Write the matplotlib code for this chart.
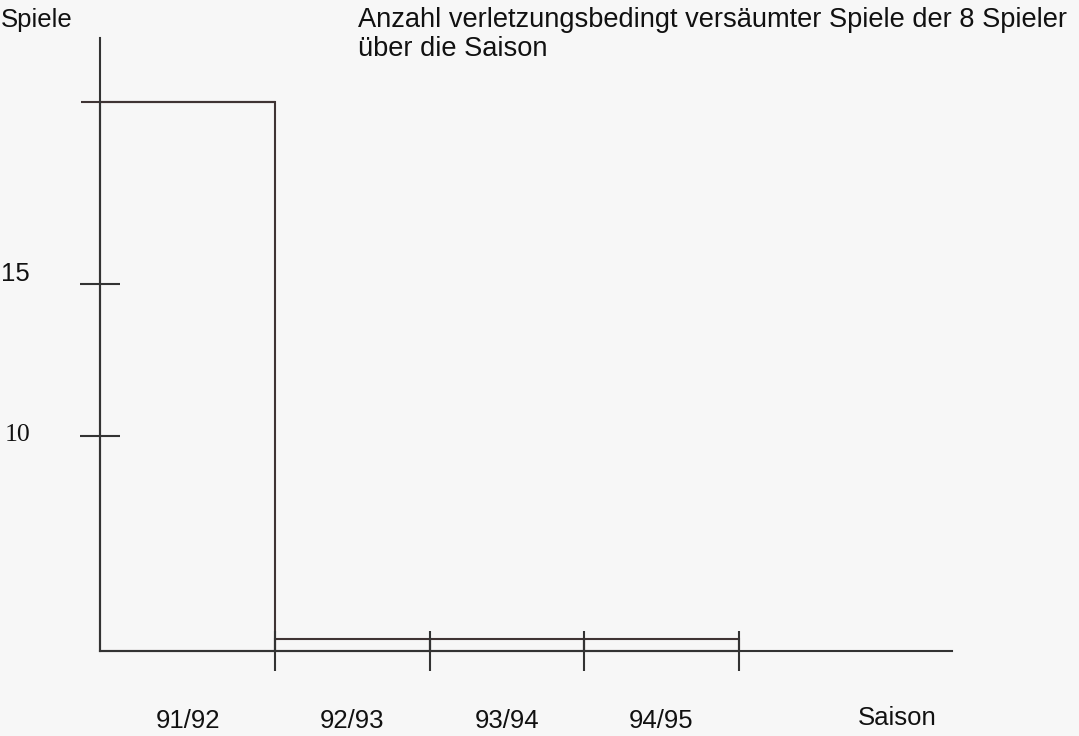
import numpy as np
import matplotlib
matplotlib.use("Agg")
import matplotlib.pyplot as plt
from matplotlib.transforms import ScaledTranslation

# data
saisons = ["91/92", "92/93", "93/94", "94/95"]
spiele = [21.0, 3.32, 3.32, 3.32]
y_ticks = [10, 15]
y_ticklabels = ["10", "15"]

# drawing layout (scan is hand made, first bar is wider)
breiten = [1.133, 1.0, 1.0, 1.0]
basis = 2.93
linie = "#333333"
balken = "#3f3434"
fs = 18.5

links = np.concatenate([[0], np.cumsum(breiten)[:-1]])
rechts = links + np.array(breiten)

fig = plt.figure(figsize=(10.79, 7.36), dpi=100, facecolor="#f7f7f7")
ax = fig.add_axes([100 / 1079, 85 / 736, 852 / 1079, 613 / 736])
ax.set_facecolor("#f7f7f7")

ax.bar(links, np.array(spiele) - basis, bottom=basis, width=breiten, align="edge",
       fill=False, edgecolor=balken, linewidth=1.5, clip_on=False)
# top line of the first bar runs a bit past the y axis in the scan
ax.hlines(spiele[0], -0.12, rechts[0], color=balken, linewidth=1.5, clip_on=False)

ax.set_xlim(0, 852 / 154.5)
ax.set_ylim(basis, 23.09)

for s in ["top", "right"]:
    ax.spines[s].set_visible(False)
for s in ["left", "bottom"]:
    ax.spines[s].set_color(linie)
    ax.spines[s].set_linewidth(1.5)

ax.set_xticks(rechts)
ax.set_xticklabels([])
ax.tick_params(axis="x", direction="inout", length=29, width=1.5, color=linie)

ax.set_yticks(y_ticks)
ax.set_yticklabels(y_ticklabels)
ax.tick_params(axis="y", direction="inout", length=29.5, width=1.5, color=linie,
               pad=35.5, labelsize=fs, labelcolor="#111111")
for lab in ax.get_yticklabels():
    if lab.get_text() == "10":
        lab.set_fontfamily("Liberation Serif")
        hoch = 4
    else:
        lab.set_fontfamily("Liberation Sans")
        hoch = 12
    lab.set_transform(lab.get_transform() + ScaledTranslation(0, hoch / 100, fig.dpi_scale_trans))

mitten = (links + rechts) / 2
for x, s in zip(mitten, saisons):
    ax.text(x, -70 / 613, s, transform=ax.get_xaxis_transform(), ha="center", va="center",
            fontsize=fs, family="Liberation Sans", color="#111111")
ax.text(797 / 852, -67 / 613, "Saison", transform=ax.transAxes, ha="center", va="center",
        fontsize=fs, family="Liberation Sans", color="#111111")

fig.text(0.001, 1 - 20 / 736, "Spiele", ha="left", va="center",
         fontsize=fs, family="Liberation Sans", color="#111111")
fig.text(358 / 1079, 1 - 7 / 736,
         "Anzahl verletzungsbedingt versäumter Spiele der 8 Spieler\nüber die Saison",
         ha="left", va="top", fontsize=19.6, family="Liberation Sans", color="#111111",
         linespacing=1.15)

fig.savefig("out.png", dpi=100, facecolor=fig.get_facecolor())
